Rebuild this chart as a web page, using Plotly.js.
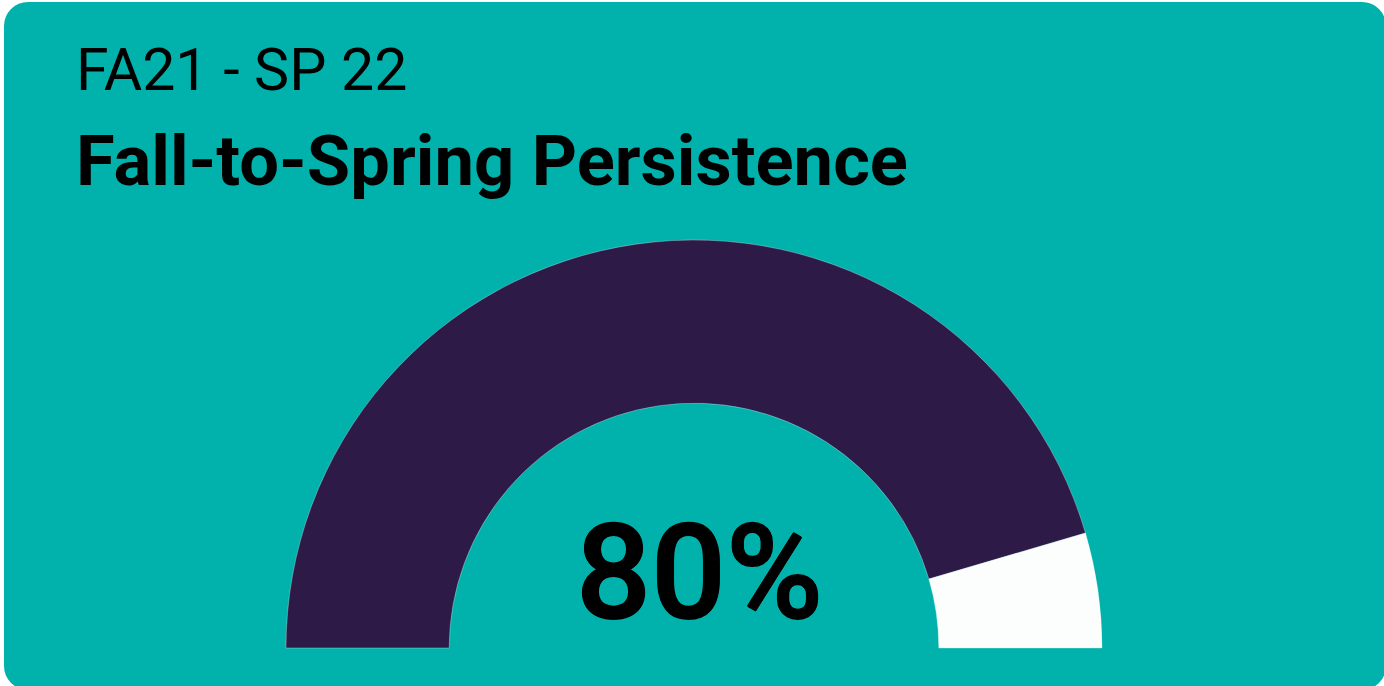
<!DOCTYPE html>
<html>
<head>
<meta charset="utf-8">
<script src="https://cdn.plot.ly/plotly-3.0.1.min.js"></script>
<style>
  html, body { margin: 0; padding: 0; background: #ffffff; width: 1384px; height: 686px; overflow: hidden; }
  #card { position: absolute; left: 4px; top: 2px; width: 1382px; height: 688px; background: #00B2AB; border-radius: 24px; overflow: hidden; }
  #chart { position: absolute; left: -4px; top: -2px; width: 1384px; height: 1100px; }
</style>
</head>
<body>
<div id="card"><div id="chart"></div></div>
<script>
// Data
const periodLabel = "FA21 - SP 22";
const metricTitle = "Fall-to-Spring Persistence";
const metricValue = 80;      // percent shown
const gaugeMax = 88;         // gauge scale maximum (read from arc extent)
const valueText = metricValue + "%";

const W = 1384, H = 1100;
const colors = ["#2E1A47", "#FBFEFD", "rgba(0,0,0,0)"];

const trace = {
  type: "pie",
  values: [metricValue, gaugeMax - metricValue, gaugeMax],
  marker: {
    colors: colors,
    line: { color: ["rgba(255,255,255,0.5)", "rgba(255,255,255,0.5)", "rgba(0,0,0,0)"], width: [0.6, 0.6, 0] }
  },
  hole: 0.6,
  sort: false,
  direction: "clockwise",
  rotation: -90,
  textinfo: "none",
  hoverinfo: "skip",
  showlegend: false,
  domain: { x: [286 / W, 1102 / W], y: [1 - 1056 / H, 1 - 240 / H] }
};

const font = "Roboto, 'Noto Sans', sans-serif";
const layout = {
  width: W, height: H,
  margin: { l: 0, r: 0, t: 0, b: 0 },
  paper_bgcolor: "rgba(0,0,0,0)",
  plot_bgcolor: "rgba(0,0,0,0)",
  showlegend: false,
  annotations: [
    { text: periodLabel, xref: "paper", yref: "paper", x: 74 / W, y: 1 - 70 / H, xanchor: "left", yanchor: "middle",
      showarrow: false, font: { family: font, size: 59, color: "#000000" } },
    { text: metricTitle, xref: "paper", yref: "paper", x: 74 / W, y: 1 - 161 / H, xanchor: "left", yanchor: "middle",
      showarrow: false, font: { family: font, size: 70.5, weight: 700, color: "#000000" } },
    { text: valueText, xref: "paper", yref: "paper", x: 699 / W, y: 1 - 573 / H, xanchor: "center", yanchor: "middle",
      showarrow: false, font: { family: font, size: 132, weight: 500, color: "#000000",
        shadow: "0.7px 0 0 #000, -0.7px 0 0 #000, 0 0.6px 0 #000, 0 -0.6px 0 #000" } }
  ]
};

Plotly.newPlot("chart", [trace], layout, { staticPlot: true, displayModeBar: false });
</script>
</body>
</html>
